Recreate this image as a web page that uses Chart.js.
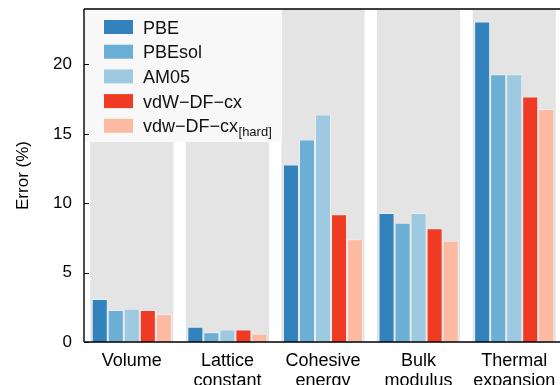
<!DOCTYPE html>
<html><head><meta charset="utf-8">
<script src="https://cdn.jsdelivr.net/npm/chart.js@4/dist/chart.umd.min.js"></script>
<style>html,body{margin:0;padding:0;overflow:hidden;background:#fff}</style>
</head><body>
<canvas id="c" width="562" height="385"></canvas>
<script>
const categories = [["Volume"], ["Lattice", "constant"], ["Cohesive", "energy"], ["Bulk", "modulus"], ["Thermal", "expansion"]];
const seriesNames = ["PBE", "PBEsol", "AM05", "vdW\u2212DF\u2212cx", "vdw\u2212DF\u2212cx"];
const seriesSubscripts = ["", "", "", "", "[hard]"];
const pbe = [3.1, 1.1, 12.8, 9.3, 23.1];
const pbesol = [2.3, 0.7, 14.6, 8.6, 19.3];
const am05 = [2.4, 0.9, 16.4, 9.3, 19.3];
const vdwDfCx = [2.3, 0.9, 9.2, 8.2, 17.7];
const vdwDfCxHard = [2.0, 0.6, 7.4, 7.3, 16.8];
const yTicks = [0, 5, 10, 15, 20];
const yMax = 24;
const yTitle = "Error (%)";

const seriesValues = [pbe, pbesol, am05, vdwDfCx, vdwDfCxHard];
const colors = ["#3182bd", "#6baed6", "#9ecae1", "#f03b24", "#fcbba1"];
const FONT = "'Liberation Sans', Arial, sans-serif";

const datasets = seriesNames.map((name, i) => ({
  label: name,
  data: seriesValues[i],
  backgroundColor: colors[i],
  borderColor: "rgba(255,255,255,0.35)",
  borderWidth: 1,
  categoryPercentage: 0.838,
  barPercentage: 1,
  order: 1
}));
datasets.push({
  label: "panel",
  data: categories.map(() => yMax),
  backgroundColor: "#e4e4e4",
  borderWidth: 0,
  grouped: false,
  categoryPercentage: 0.87,
  barPercentage: 1,
  order: 10
});

const decor = {
  id: "decor",
  afterDatasetsDraw(chart) {
    const ctx = chart.ctx, a = chart.chartArea;
    ctx.save();
    ctx.fillStyle = "#f8f8f8";
    ctx.fillRect(a.left, a.top, 198, 133);
    const x0 = a.left + 20, sw = 29, sh = 14, tx = a.left + 59;
    for (let i = 0; i < seriesNames.length; i++) {
      const cy = a.top + 18 + i * 24.7;
      ctx.fillStyle = colors[i];
      ctx.fillRect(x0, cy - sh / 2, sw, sh);
      ctx.fillStyle = "#111";
      ctx.font = "18px " + FONT;
      ctx.textBaseline = "alphabetic";
      ctx.textAlign = "left";
      const base = cy + 6.5;
      ctx.fillText(seriesNames[i], tx, base);
      if (seriesSubscripts[i]) {
        const w = ctx.measureText(seriesNames[i]).width;
        ctx.font = "13px " + FONT;
        ctx.fillText(seriesSubscripts[i], tx + w + 0.5, base + 4);
      }
    }
    ctx.restore();
  },
  afterDraw(chart) {
    const ctx = chart.ctx, a = chart.chartArea, y = chart.scales.y;
    ctx.save();
    ctx.strokeStyle = "#000";
    ctx.lineWidth = 1.4;
    ctx.beginPath();
    ctx.moveTo(a.left, a.top); ctx.lineTo(chart.width, a.top);
    ctx.moveTo(a.left, a.top); ctx.lineTo(a.left, a.bottom);
    ctx.moveTo(a.left, a.bottom); ctx.lineTo(chart.width, a.bottom);
    ctx.stroke();
    ctx.lineWidth = 1;
    ctx.beginPath();
    yTicks.forEach(v => {
      const py = Math.round(y.getPixelForValue(v)) + 0.5;
      ctx.moveTo(a.left, py); ctx.lineTo(a.left + 5, py);
    });
    ctx.stroke();
    ctx.restore();
  }
};

new Chart(document.getElementById("c"), {
  type: "bar",
  data: { labels: categories, datasets },
  options: {
    responsive: false,
    animation: false,
    devicePixelRatio: 1,
    layout: { padding: { top: 9, right: 0, bottom: 0, left: 0 } },
    plugins: { legend: { display: false }, tooltip: { enabled: false } },
    scales: {
      x: {
        grid: { display: false, drawTicks: false },
        border: { display: false },
        ticks: { font: { size: 18, family: FONT, lineHeight: 1.12 }, color: "#000", padding: 9, maxRotation: 0, autoSkip: false },
        afterFit: s => { s.height = 43; s.paddingLeft = 0; s.paddingRight = 0; }
      },
      y: {
        min: 0, max: yMax,
        afterBuildTicks: s => { s.ticks = yTicks.map(v => ({ value: v })); },
        grid: { display: false, drawTicks: false },
        border: { display: false },
        ticks: { font: { size: 17, family: FONT }, color: "#000", padding: 12 },
        title: { display: true, text: yTitle, font: { size: 17, family: FONT }, color: "#000", padding: { top: 13, bottom: 0 } },
        afterFit: s => { s.width = 84; s.paddingTop = 0; s.paddingBottom = 0; }
      }
    }
  },
  plugins: [decor]
});
</script>
</body></html>
